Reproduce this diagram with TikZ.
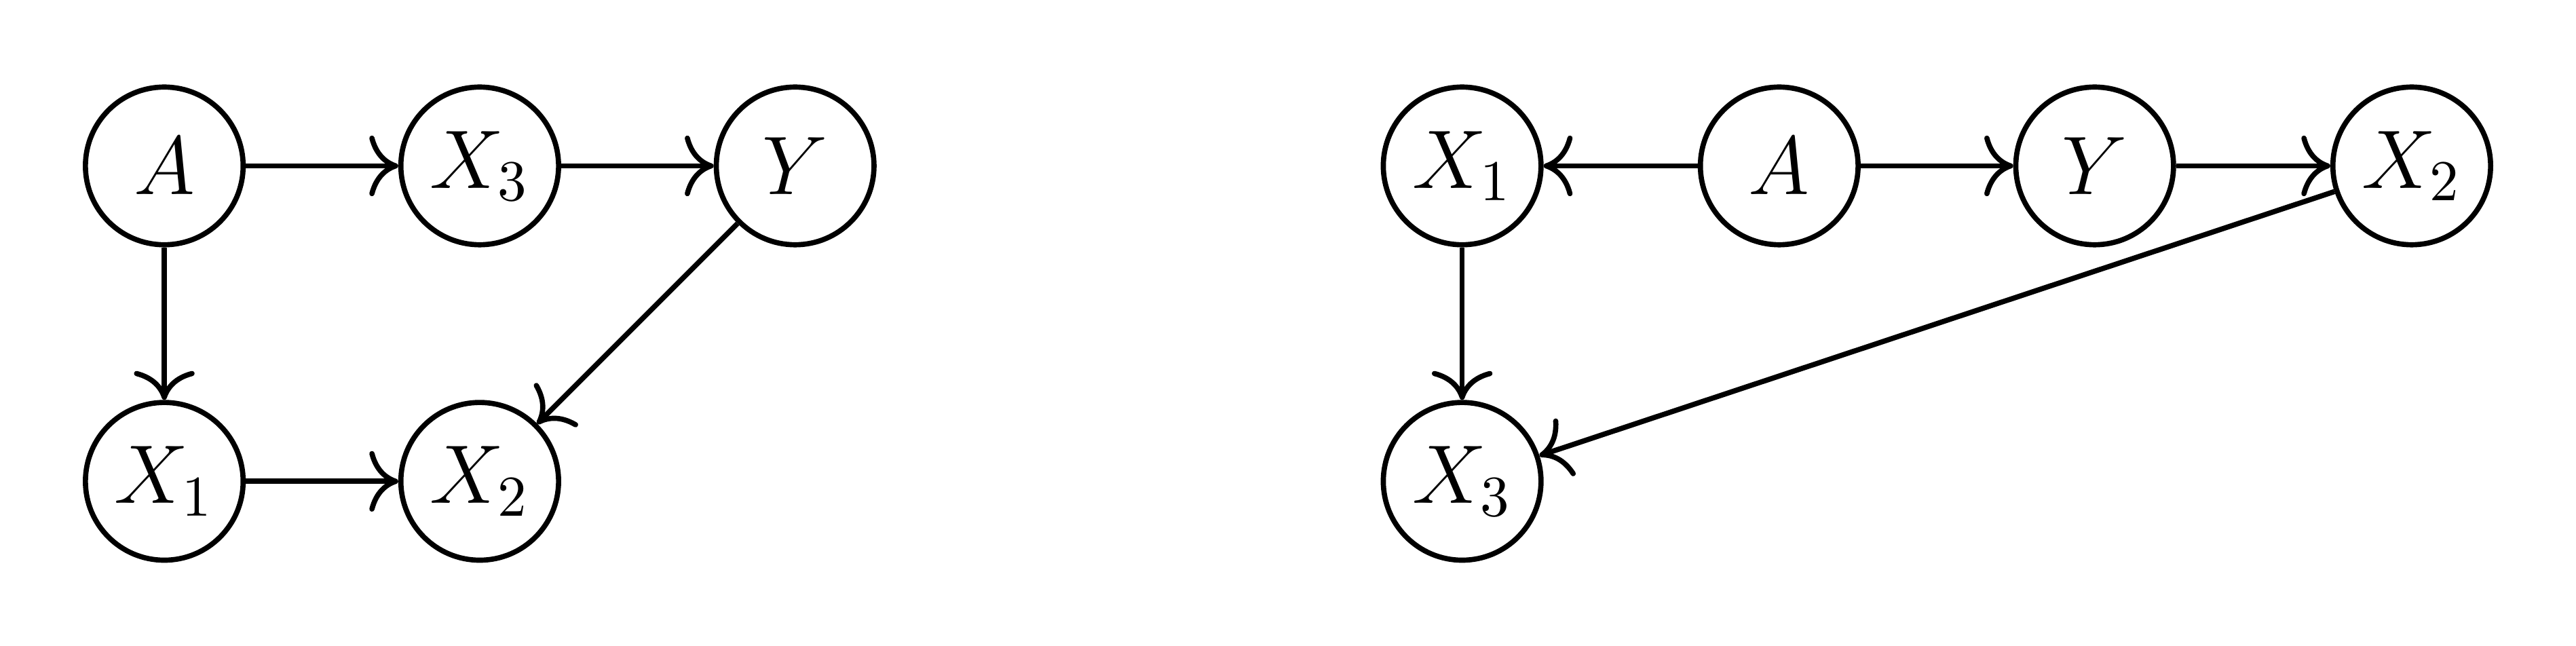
\documentclass[tikz,border=0pt]{standalone}
\usetikzlibrary{arrows.meta}
\begin{document}
\begin{tikzpicture}[
  vnode/.style={draw,circle,line width=0.9pt,minimum size=0.96cm,inner sep=0pt,font=\Large},
  edge/.style={line width=0.9pt,-{Computer Modern Rightarrow[scale=1.4]}}]
\useasboundingbox (0,0) rectangle (15.68,3.93);
\node[vnode] (A) at (1.00,2.92) {$A$};
\node[vnode] (X3) at (2.92,2.92) {$X_3$};
\node[vnode] (Y) at (4.84,2.92) {$Y$};
\node[vnode] (X1) at (1.00,1.00) {$X_1$};
\node[vnode] (X2) at (2.92,1.00) {$X_2$};
\draw[edge] (A) -- (X3);
\draw[edge] (X3) -- (Y);
\draw[edge] (A) -- (X1);
\draw[edge] (X1) -- (X2);
\draw[edge] (Y) -- (X2);
\node[vnode] (rX1) at (8.90,2.92) {$X_1$};
\node[vnode] (rA) at (10.83,2.92) {$A$};
\node[vnode] (rY) at (12.75,2.92) {$Y$};
\node[vnode] (rX2) at (14.68,2.92) {$X_2$};
\node[vnode] (rX3) at (8.90,1.00) {$X_3$};
\draw[edge] (rA) -- (rX1);
\draw[edge] (rA) -- (rY);
\draw[edge] (rY) -- (rX2);
\draw[edge] (rX1) -- (rX3);
\draw[edge] (rX2) -- (rX3);
\end{tikzpicture}
\end{document}
